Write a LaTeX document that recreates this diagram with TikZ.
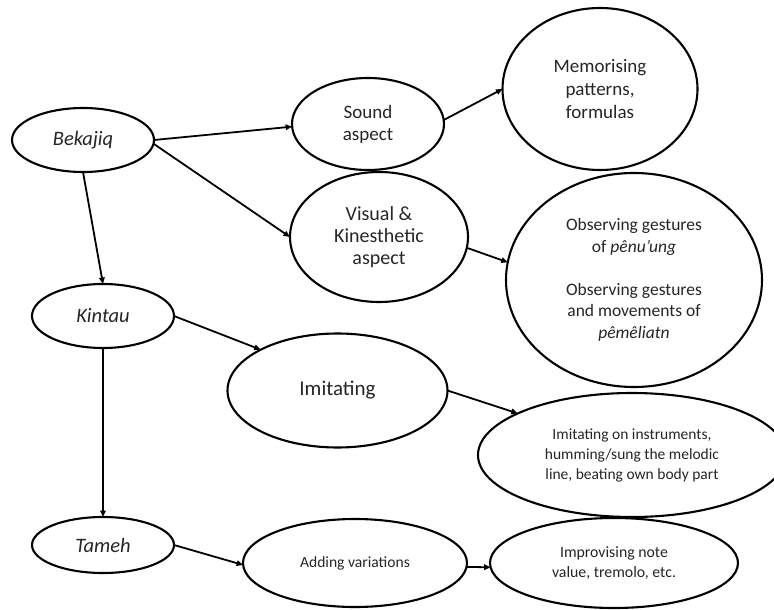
\documentclass[tikz,border=0pt]{standalone}
\usepackage{fontspec}
\setmainfont{Carlito}
\usetikzlibrary{shapes.geometric,arrows.meta}
\begin{document}
\begin{tikzpicture}[x=1pt,y=-1pt,
  ell/.style={ellipse,draw=black,line width=2.1pt,inner sep=0pt,outer sep=0pt,align=center,text=black!85},
  conn/.style={line width=1.8pt,-{Triangle[length=6.5pt,width=5.5pt]}}]
\clip (0,0) rectangle (774,610);
\fill[white] (0,0) rectangle (774,610);
% left column
\node[ell,minimum width=142pt,minimum height=64pt,font=\fontsize{20.5}{24}\selectfont\itshape] (bek) at (83,140) {Bekajiq};
\node[ell,minimum width=142pt,minimum height=64pt,font=\fontsize{20.5}{24}\selectfont\itshape] (kin) at (103,316) {Kintau};
\node[ell,minimum width=142pt,minimum height=56pt,font=\fontsize{20.5}{24}\selectfont\itshape] (tam) at (103,545) {Tameh};
% middle column
\node[ell,minimum width=152pt,minimum height=92pt,font=\fontsize{19}{22}\selectfont] (snd) at (368,124) {Sound\\aspect};
\node[ell,minimum width=178pt,minimum height=130pt,font=\fontsize{20}{22}\selectfont] (vis) at (379,237) {Visual \&\\Kinesthetic\\aspect};
\node[ell,minimum width=220pt,minimum height=114pt,font=\fontsize{21}{24}\selectfont] (imi) at (337.5,390.5) {Imitating};
\node[ell,minimum width=224pt,minimum height=88pt,font=\fontsize{15.6}{20}\selectfont] (add) at (355,563) {Adding variations};
% right column
\node[ell,minimum width=195pt,minimum height=162pt,font=\fontsize{19}{23}\selectfont] (mem) at (600,89) {Memorising\\patterns,\\formulas};
\node[ell,minimum width=256pt,minimum height=214pt,font=\fontsize{17.5}{21.5}\selectfont] (obs) at (634,280) {Observing gestures\\of \textit{pênu’ung}\\[21.5pt]Observing gestures\\and movements of\\\textit{pêmêliatn}};
\node[ell,minimum width=308pt,minimum height=124pt,font=\fontsize{15.5}{20}\selectfont] (ins) at (632,455) {Imitating on instruments,\\humming/sung the melodic\\line, beating own body part};
\node[ell,minimum width=248pt,minimum height=90pt,font=\fontsize{15.8}{20}\selectfont] (imp) at (614,563) {Improvising note\\value, tremolo, etc.};
% connectors
\draw[conn] (bek.east) -- (snd.182);
\draw[conn] (bek.-3) -- (vis.west);
\draw[conn] (bek.south) -- (kin.north);
\draw[conn] (snd.3) -- (mem.west);
\draw[conn] (vis.-7) -- (obs.172);
\draw[conn] (kin.east) -- (imi.152);
\draw[conn] (imi.east) -- (ins.160);
\draw[conn] (kin.south) -- (tam.north);
\draw[conn] (tam.east) -- (add.181);
\draw[conn] (add.-2.5) -- (imp.182.5);
\end{tikzpicture}
\end{document}
